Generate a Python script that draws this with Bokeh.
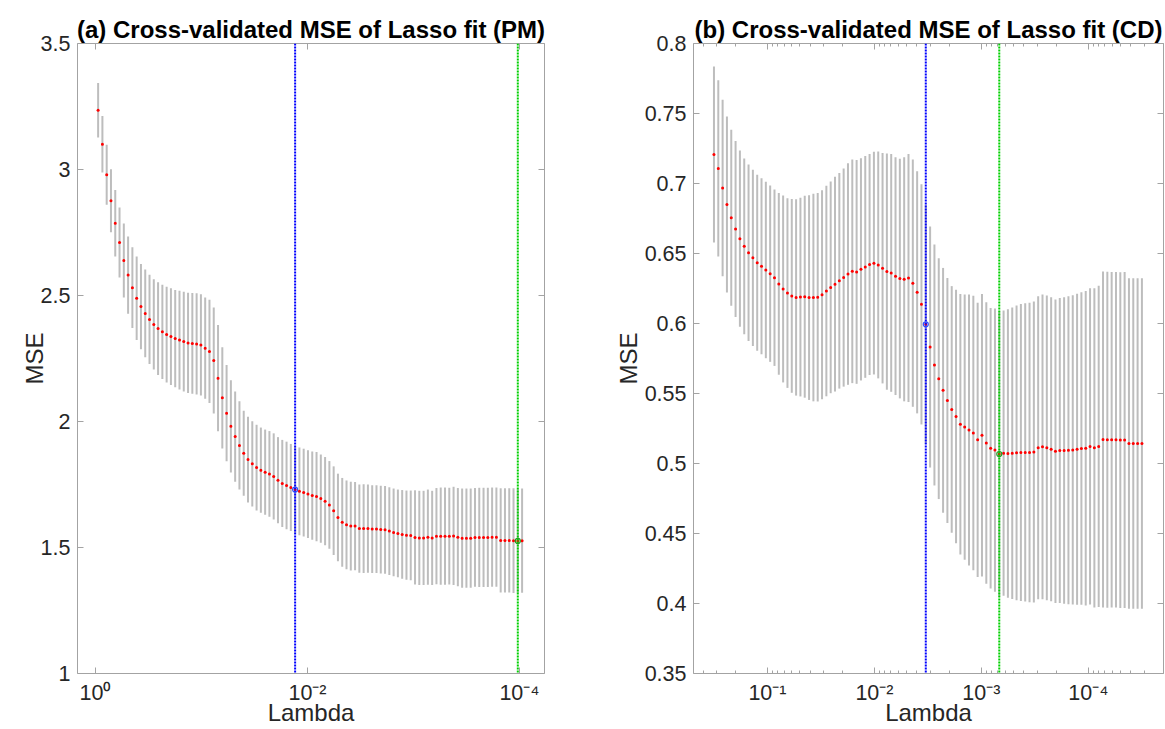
import numpy as np
from bokeh.plotting import figure
from bokeh.models import Range1d, FixedTicker, LogAxis, LinearAxis, Span, ColumnDataSource
from bokeh.layouts import row
from bokeh.embed import file_html
from bokeh.resources import INLINE

# ---------------- data ----------------
# Lasso lambda grid: 100 geometrically spaced values, ratio 1e-4 (MATLAB lasso default)
NUM_LAMBDA = 100
LAMBDA_RATIO = 1e-4
lambda_max_pm = 0.945
lambda_max_cd = 0.316

mse_pm = [3.235, 3.100, 2.979, 2.876, 2.787, 2.710, 2.639, 2.581, 2.531, 2.489,
          2.456, 2.429, 2.405, 2.385, 2.369, 2.356, 2.345, 2.337, 2.329, 2.323,
          2.317, 2.312, 2.310, 2.308, 2.304, 2.291, 2.278, 2.242, 2.172, 2.094,
          2.033, 1.981, 1.940, 1.905, 1.874, 1.849, 1.832, 1.817, 1.807, 1.799,
          1.792, 1.782, 1.767, 1.754, 1.746, 1.738, 1.730, 1.723, 1.718, 1.712,
          1.706, 1.702, 1.694, 1.684, 1.669, 1.646, 1.619, 1.600, 1.590, 1.585,
          1.585, 1.575, 1.575, 1.575, 1.573, 1.573, 1.571, 1.570, 1.565, 1.560,
          1.556, 1.552, 1.549, 1.548, 1.540, 1.538, 1.538, 1.541, 1.538, 1.545,
          1.545, 1.545, 1.545, 1.546, 1.541, 1.537, 1.537, 1.537, 1.540, 1.540,
          1.540, 1.540, 1.541, 1.541, 1.528, 1.528, 1.528, 1.527, 1.526, 1.527]

se_pm = [0.108, 0.112, 0.119, 0.125, 0.132, 0.139, 0.147, 0.153, 0.160, 0.166,
         0.169, 0.174, 0.177, 0.179, 0.184, 0.187, 0.190, 0.192, 0.193, 0.196,
         0.198, 0.199, 0.200, 0.201, 0.201, 0.201, 0.205, 0.210, 0.211, 0.201,
         0.191, 0.183, 0.179, 0.175, 0.169, 0.170, 0.169, 0.170, 0.169, 0.169,
         0.170, 0.171, 0.171, 0.173, 0.174, 0.173, 0.174, 0.174, 0.174, 0.174,
         0.175, 0.177, 0.175, 0.175, 0.174, 0.176, 0.174, 0.176, 0.176, 0.176,
         0.175, 0.175, 0.176, 0.175, 0.174, 0.174, 0.174, 0.174, 0.174, 0.174,
         0.174, 0.176, 0.177, 0.178, 0.187, 0.187, 0.187, 0.189, 0.187, 0.191,
         0.193, 0.193, 0.192, 0.195, 0.195, 0.197, 0.197, 0.197, 0.196, 0.197,
         0.197, 0.197, 0.197, 0.197, 0.207, 0.207, 0.207, 0.208, 0.208, 0.207]

mse_cd = [0.7207, 0.7108, 0.6968, 0.6850, 0.6755, 0.6675, 0.6606, 0.6551, 0.6505, 0.6469,
          0.6434, 0.6409, 0.6382, 0.6356, 0.6327, 0.6283, 0.6247, 0.6217, 0.6197, 0.6186,
          0.6189, 0.6191, 0.6185, 0.6185, 0.6188, 0.6205, 0.6232, 0.6258, 0.6281, 0.6305,
          0.6328, 0.6353, 0.6373, 0.6368, 0.6387, 0.6404, 0.6421, 0.6431, 0.6418, 0.6395,
          0.6371, 0.6361, 0.6338, 0.6321, 0.6316, 0.6325, 0.6288, 0.6223, 0.6137, 0.5994,
          0.5832, 0.5704, 0.5606, 0.5523, 0.5450, 0.5386, 0.5336, 0.5280, 0.5260, 0.5239,
          0.5218, 0.5169, 0.5202, 0.5146, 0.5109, 0.5096, 0.5068, 0.5074, 0.5071, 0.5074,
          0.5076, 0.5079, 0.5079, 0.5079, 0.5083, 0.5112, 0.5119, 0.5112, 0.5102, 0.5088,
          0.5093, 0.5093, 0.5095, 0.5097, 0.5102, 0.5107, 0.5109, 0.5122, 0.5112, 0.5122,
          0.5171, 0.5169, 0.5169, 0.5169, 0.5167, 0.5167, 0.5143, 0.5143, 0.5143, 0.5143]

se_cd = [0.0629, 0.0630, 0.0630, 0.0629, 0.0629, 0.0628, 0.0629, 0.0628, 0.0630, 0.0630,
         0.0628, 0.0629, 0.0630, 0.0630, 0.0630, 0.0649, 0.0668, 0.0677, 0.0692, 0.0701,
         0.0710, 0.0721, 0.0731, 0.0741, 0.0745, 0.0746, 0.0752, 0.0756, 0.0767, 0.0770,
         0.0779, 0.0791, 0.0799, 0.0799, 0.0794, 0.0792, 0.0789, 0.0795, 0.0810, 0.0823,
         0.0844, 0.0849, 0.0849, 0.0856, 0.0872, 0.0886, 0.0883, 0.0865, 0.0858, 0.0855,
         0.0861, 0.0861, 0.0860, 0.0874, 0.0875, 0.0881, 0.0905, 0.0930, 0.0948, 0.0968,
         0.0981, 0.0979, 0.1009, 0.1005, 0.1002, 0.1012, 0.1020, 0.1018, 0.1030, 0.1041,
         0.1052, 0.1061, 0.1065, 0.1070, 0.1075, 0.1082, 0.1088, 0.1088, 0.1086, 0.1084,
         0.1090, 0.1095, 0.1100, 0.1105, 0.1111, 0.1116, 0.1123, 0.1130, 0.1140, 0.1147,
         0.1200, 0.1200, 0.1198, 0.1198, 0.1199, 0.1200, 0.1180, 0.1180, 0.1180, 0.1180]

xticks_pm = [1.0, 1e-2, 1e-4]
xticklabels_pm = ["10\u2070", "10\u207b\u00b2", "10\u207b\u2074"]
yticks_pm = [1.0, 1.5, 2.0, 2.5, 3.0, 3.5]
yticklabels_pm = ["1", "1.5", "2", "2.5", "3", "3.5"]

xticks_cd = [1e-1, 1e-2, 1e-3, 1e-4]
xticklabels_cd = ["10\u207b\u00b9", "10\u207b\u00b2", "10\u207b\u00b3", "10\u207b\u2074"]
yticks_cd = [0.35, 0.4, 0.45, 0.5, 0.55, 0.6, 0.65, 0.7, 0.75, 0.8]
yticklabels_cd = ["0.35", "0.4", "0.45", "0.5", "0.55", "0.6", "0.65", "0.7", "0.75", "0.8"]

title_pm = "(a) Cross-validated MSE of Lasso fit (PM)"
title_cd = "(b) Cross-validated MSE of Lasso fit (CD)"

FONT = "Liberation Sans"
BOX = "#a3a3a3"
TXT = "#262626"


def minor_log_ticks(lo, hi):
    out = []
    for e in range(-6, 1):
        for k in range(2, 10):
            v = k * 10.0 ** e
            if lo < v < hi:
                out.append(v)
    return out


def style_axis(ax, size="21.5px"):
    ax.axis_line_color = None
    ax.major_tick_in = 6
    ax.major_tick_out = 0
    ax.minor_tick_in = 3
    ax.minor_tick_out = 0
    ax.major_tick_line_color = BOX
    ax.minor_tick_line_color = BOX
    ax.major_label_text_font = FONT
    ax.major_label_text_font_size = size
    ax.major_label_text_color = TXT
    ax.axis_label_text_font = FONT
    ax.axis_label_text_font_size = "24px"
    ax.axis_label_text_font_style = "normal"
    ax.axis_label_text_color = TXT


def make_panel(title, lam_max, mse, se, xr, yr, xticks, xlabels, xminor,
               yticks, ylabels, width, left, right, ylab_standoff):
    lam = np.geomspace(lam_max, lam_max * LAMBDA_RATIO, NUM_LAMBDA)
    mse = np.asarray(mse)
    se = np.asarray(se)
    imin = int(np.argmin(mse))
    thr = mse[imin] + se[imin]
    i1se = int(np.where(mse <= thr)[0][0])

    src = ColumnDataSource(dict(lam=lam, mse=mse, lo=mse - se, hi=mse + se))

    p = figure(width=width, height=729, x_axis_type="log",
               x_range=Range1d(*xr), y_range=Range1d(*yr),
               output_backend="svg", toolbar_location=None,
               min_border_left=left, min_border_right=right,
               min_border_top=43, min_border_bottom=56)
    p.grid.visible = False
    p.outline_line_color = BOX
    p.outline_line_width = 1
    p.background_fill_color = "white"
    p.border_fill_color = "white"

    p.title.text = title
    p.title.text_font = FONT
    p.title.text_font_size = "24px"
    p.title.text_font_style = "bold"
    p.title.text_color = "black"
    p.title.align = "center"
    p.title.standoff = 1

    xt = FixedTicker(ticks=xticks, minor_ticks=xminor)
    yt = FixedTicker(ticks=yticks, minor_ticks=[])

    xa = p.xaxis[0]
    xa.ticker = xt
    xa.major_label_overrides = dict(zip(xticks, xlabels))
    xa.axis_label = "Lambda"
    style_axis(xa)
    xa.major_label_standoff = 7
    xa.axis_label_standoff = -9

    ya = p.yaxis[0]
    ya.ticker = yt
    ya.major_label_overrides = dict(zip(yticks, ylabels))
    ya.axis_label = "MSE"
    style_axis(ya)
    ya.major_label_standoff = 7
    ya.axis_label_standoff = ylab_standoff

    top = LogAxis(ticker=FixedTicker(ticks=xticks, minor_ticks=xminor))
    style_axis(top, "0px")
    top.major_label_standoff = 0
    top.major_label_overrides = {t: "" for t in xticks}
    p.add_layout(top, "above")

    rt = LinearAxis(ticker=FixedTicker(ticks=yticks, minor_ticks=[]))
    style_axis(rt, "0px")
    rt.major_label_standoff = 0
    rt.major_label_overrides = {t: "" for t in yticks}
    p.add_layout(rt, "right")

    p.segment(x0="lam", y0="lo", x1="lam", y1="hi", source=src,
              line_color="#bdbdbd", line_width=2)
    p.scatter("lam", "mse", source=src, size=3, color="#ff0000", line_width=0)

    p.add_layout(Span(location=lam[i1se], dimension="height", line_color="#0000ff",
                      line_width=2, line_dash="2 1"))
    p.add_layout(Span(location=lam[imin], dimension="height", line_color="#00d000",
                      line_width=2, line_dash="2 1"))

    p.scatter(x=[lam[i1se]], y=[mse[i1se]], marker="circle", size=5,
              fill_color=None, line_color="#3050ff", line_width=1.2, level="overlay")
    p.scatter(x=[lam[imin]], y=[mse[imin]], marker="circle", size=5,
              fill_color=None, line_color="#20a020", line_width=1.2, level="overlay")
    return p


xr_pm = (10 ** 0.17, 10 ** -4.236)
xr_cd = (10 ** -0.309, 10 ** -4.702)

p1 = make_panel(title_pm, lambda_max_pm, mse_pm, se_pm, xr_pm, (1.0, 3.5),
                xticks_pm, xticklabels_pm, [], yticks_pm, yticklabels_pm,
                600, 77, 56, -10)
p2 = make_panel(title_cd, lambda_max_cd, mse_cd, se_cd, xr_cd, (0.35, 0.8),
                xticks_cd, xticklabels_cd, minor_log_ticks(xr_cd[1], xr_cd[0]),
                yticks_cd, yticklabels_cd, 565, 93, 2, 0)

layout = row(p1, p2)
open("out.html", "w").write(file_html(layout, INLINE))
